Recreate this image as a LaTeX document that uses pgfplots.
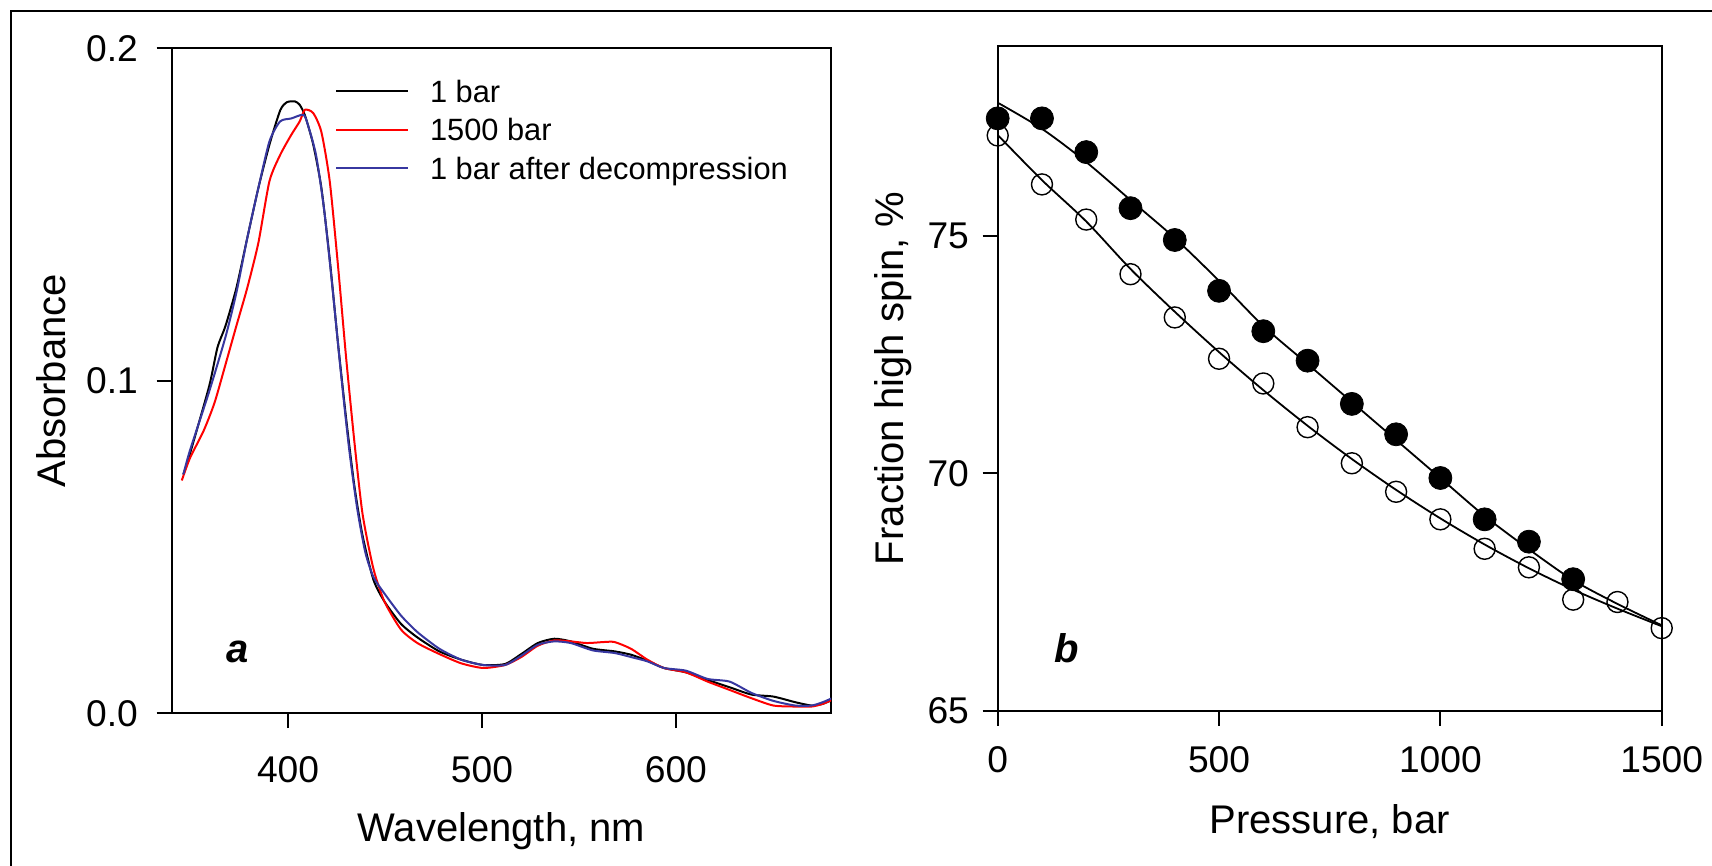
\documentclass[border=0pt]{standalone}
\usepackage{pgfplots}
\pgfplotsset{compat=1.18}
\usepackage{fontspec}
\setmainfont{Liberation Sans}
\definecolor{specblue}{RGB}{55,55,160}
\definecolor{specred}{RGB}{255,0,0}
\pgfplotsset{
  myaxis/.style={
    scale only axis,
    axis line style={line width=1pt},
    every tick/.style={black, line width=1pt},
    major tick length=7.5pt,
    tick align=outside,
    xtick pos=left, ytick pos=left,
    /pgf/number format/assume math mode=true,
    ticklabel style={font=\fontsize{18.6}{20}\selectfont, inner sep=0pt},
    label style={font=\fontsize{20}{24}\selectfont},
  }
}
\begin{document}
\begin{tikzpicture}
\useasboundingbox (0pt,0pt) rectangle (856pt,433pt);
\draw[line width=1pt] (5.5pt,0pt) -- (5.5pt,427.65pt) -- (856pt,427.65pt);

\begin{axis}[myaxis,
  at={(85.85pt,408.85pt)}, anchor=north west,
  width=329.65pt, height=332.45pt,
  xmin=340, xmax=680, ymin=0, ymax=0.2,
  xtick={400,500,600}, ytick={0,0.1,0.2}, yticklabels={0.0,0.1,0.2},
  xticklabel style={anchor=north, yshift=-14.2pt},
  yticklabel style={anchor=east, xshift=-9.2pt},
  xlabel={Wavelength, nm}, ylabel={Absorbance},
  xlabel style={at={(axis description cs:0.5,-0.193)}, anchor=base},
  ylabel style={at={(axis description cs:-0.1831,0.5)}, anchor=center},
  legend style={at={(axis description cs:0.2471,0.9525)}, anchor=north west,
    draw=none, fill=none, inner sep=0pt, row sep=8.2pt,
    font=\fontsize{15.4}{18}\selectfont,
    nodes={inner sep=0pt, text height=11pt, text depth=0pt}},
  legend cell align=left,
  legend image code/.code={\draw[#1] (0pt,0pt) -- (36pt,0pt); \path (46.5pt,0pt);},
  every axis plot/.append style={line width=1pt},
]
\addplot[black, smooth, tension=0.4] coordinates {
(346,0.0718)(349.4,0.078)(359.3,0.0983)(363.6,0.110)(367.8,0.1166)(373.4,0.128)
(379,0.143)(384.7,0.158)(390.4,0.171)(396,0.1814)(399.5,0.1838)(403.6,0.184)(406,0.183)
(408.8,0.1797)(413,0.171)(417.2,0.158)(421.5,0.1365)(425.7,0.1116)(430,0.0884)
(434.2,0.0684)(438.4,0.0535)(444,0.0402)(449.7,0.0336)(458.2,0.0269)(466.7,0.0228)
(478,0.0186)(489.3,0.0161)(500.6,0.0145)(511.9,0.0148)(520.3,0.0178)(528.8,0.0211)
(537.3,0.0224)(545.8,0.0216)(557.1,0.0194)(568.4,0.0186)(576.8,0.0176)(585.3,0.0158)
(593.8,0.0136)(605.1,0.0123)(616.4,0.0100)(627.7,0.0078)(639,0.0056)(650.3,0.0050)
(661.6,0.0033)(670,0.0023)(675.7,0.0028)(680.5,0.004)};
\addlegendentry{1 bar}
\addplot[specred, smooth, tension=0.4] coordinates {
(345.2,0.070)(349.4,0.0767)(356.5,0.085)(362.1,0.0934)(367.8,0.105)(373.4,0.1166)
(379,0.128)(384.7,0.1415)(390.4,0.160)(396,0.168)(401.7,0.174)(406,0.178)(408.7,0.1815)
(413,0.1805)(417.2,0.1748)(421.5,0.160)(425.7,0.135)(430,0.1066)(434.2,0.0817)
(438.4,0.060)(444,0.0435)(449.7,0.0336)(458.2,0.0252)(466.7,0.0211)(478,0.0178)
(489.3,0.0150)(500.6,0.0136)(511.9,0.0145)(520.3,0.0169)(528.8,0.0203)(537.3,0.0219)
(545.8,0.0216)(554.2,0.0211)(562.7,0.0214)(568.4,0.0214)(576.8,0.0194)(585.3,0.0161)
(593.8,0.0136)(605.1,0.0123)(616.4,0.0095)(627.7,0.0070)(639,0.0045)(650.3,0.0023)
(661.6,0.0020)(670,0.0020)(675.7,0.0028)(680.5,0.004)};
\addlegendentry{1500 bar}
\addplot[specblue, smooth, tension=0.4] coordinates {
(346,0.0718)(349.4,0.079)(359.3,0.0967)(367.8,0.1133)(373.4,0.1266)(379,0.143)
(384.7,0.158)(390.4,0.172)(395.9,0.178)(401.7,0.1789)(407.9,0.180)(410.2,0.177)
(414.4,0.168)(418.6,0.1515)(422.9,0.128)(427.1,0.1033)(431.4,0.080)(435.6,0.0618)
(439.8,0.0485)(444,0.041)(449.7,0.036)(458.2,0.0294)(466.7,0.0244)(478,0.0194)
(489.3,0.0161)(500.6,0.0145)(511.9,0.0145)(520.3,0.0173)(528.8,0.0206)(537.3,0.0216)
(545.8,0.0211)(557.1,0.0189)(568.4,0.0181)(576.8,0.0169)(585.3,0.0156)(593.8,0.0136)
(605.1,0.0128)(616.4,0.0103)(627.7,0.0095)(639,0.0061)(650.3,0.0037)(661.6,0.0023)
(670,0.0023)(675.7,0.0033)(680.5,0.0045)};
\addlegendentry{1 bar after decompression}
\node[anchor=base west, font=\fontsize{20}{24}\selectfont\bfseries\itshape]
  at (rel axis cs:0.0724,0.076) {a};
\end{axis}

\begin{axis}[myaxis,
  at={(498.85pt,410.15pt)}, anchor=north west,
  width=332pt, height=332.55pt,
  xmin=0, xmax=1500, ymin=65, ymax=79,
  xtick={0,500,1000,1500}, xticklabels={0,500,1000,1500},
  ytick={65,70,75}, yticklabels={65,70,75},
  xticklabel style={anchor=north, yshift=-10.35pt},
  yticklabel style={anchor=east, xshift=-6.7pt},
  xlabel={Pressure, bar}, ylabel={Fraction high spin, \%},
  xlabel style={at={(axis description cs:0.5,-0.185)}, anchor=base},
  ylabel style={at={(axis description cs:-0.158,0.5)}, anchor=center},
  clip=false,
]
\addplot[black, line width=0.9pt, smooth, no markers] coordinates {
(0,77.80)(100,77.25)(200,76.55)(300,75.75)(400,74.95)(500,74.05)(600,73.10)
(700,72.30)(800,71.50)(900,70.70)(1000,69.90)(1100,69.10)(1200,68.40)(1300,67.75)
(1400,67.25)(1500,66.80)};
\addplot[black, line width=0.9pt, smooth, no markers] coordinates {
(0,77.12)(100,76.17)(200,75.30)(300,74.30)(400,73.40)(500,72.55)(600,71.75)
(700,71.00)(800,70.30)(900,69.65)(1000,69.05)(1100,68.50)(1200,68.00)(1300,67.55)
(1400,67.15)(1500,66.78)};
\addplot[only marks, mark=*, mark size=5.75pt, black] coordinates {
(0,77.47)(100,77.47)(200,76.76)(300,75.58)(400,74.91)(500,73.84)(600,72.99)
(700,72.37)(800,71.46)(900,70.82)(1000,69.90)(1100,69.03)(1200,68.56)(1300,67.77)};
\addplot[only marks, mark=o, mark size=5.25pt, black, mark options={line width=0.7pt}] coordinates {
(0,77.11)(100,76.08)(200,75.34)(300,74.19)(400,73.28)(500,72.41)(600,71.89)
(700,70.97)(800,70.21)(900,69.61)(1000,69.03)(1100,68.41)(1200,68.02)(1300,67.34)
(1400,67.29)(1500,66.74)};
\node[anchor=base west, font=\fontsize{20}{24}\selectfont\bfseries\itshape]
  at (rel axis cs:0.075,0.0725) {b};
\end{axis}
\end{tikzpicture}
\end{document}
